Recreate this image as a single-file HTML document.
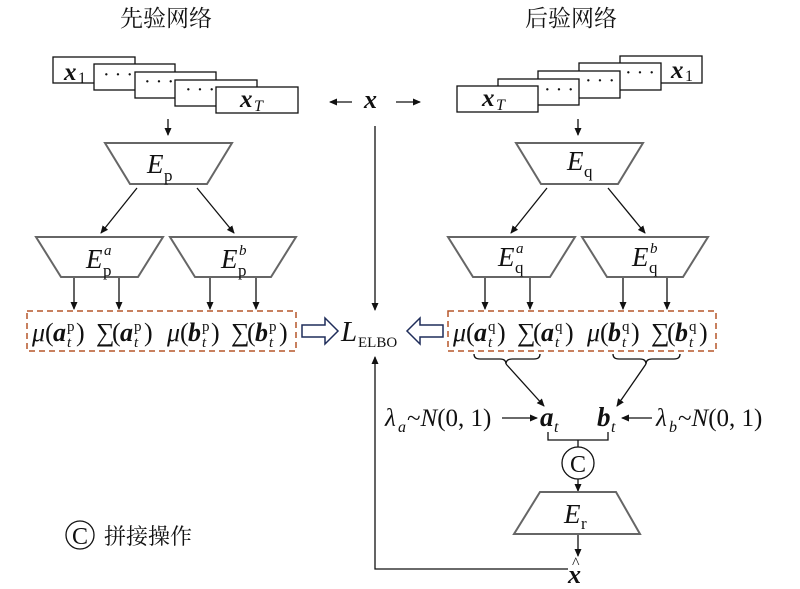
<!DOCTYPE html>
<html><head><meta charset="utf-8"><style>
body{margin:0;background:#fff;}
svg{display:block;}
text{font-family:"Liberation Serif","Noto Serif CJK SC",serif;fill:#111;}
.b{font-weight:bold;font-style:italic;}
.i{font-style:italic;}
</style></head><body>
<svg width="800" height="589" viewBox="0 0 800 589" xmlns="http://www.w3.org/2000/svg">
<defs>
<marker id="ah" markerWidth="8" markerHeight="8" refX="7" refY="4" orient="auto" markerUnits="userSpaceOnUse"><path d="M0,0.5 L8,4 L0,7.5 Z" fill="#111"/></marker>
<g id="mu"><text x="0" y="0" class="i" font-size="26">μ</text><text x="13" y="0" font-size="26">(</text><text x="44" y="0" font-size="26">)</text></g>
<g id="sg"><text x="0" y="0" font-size="26">∑</text><text x="16" y="0" font-size="26">(</text><text x="48" y="0" font-size="26">)</text></g>
</defs>
<text x="120" y="26" font-size="23" font-family="'Noto Sans CJK SC',sans-serif">先验网络</text>
<text x="525" y="26" font-size="23" font-family="'Noto Sans CJK SC',sans-serif">后验网络</text>

<g stroke="#111" stroke-width="1.3" fill="#fff">
<rect x="53" y="57" width="82" height="26"/>
<rect x="94" y="64" width="81" height="26"/>
<rect x="135" y="72" width="81" height="26"/>
<rect x="175" y="80" width="82" height="26"/>
<rect x="216" y="87" width="82" height="26"/>
<rect x="620" y="56" width="82" height="27"/>
<rect x="579" y="63" width="82" height="27"/>
<rect x="538" y="71" width="82" height="27"/>
<rect x="498" y="79" width="81" height="26"/>
<rect x="457" y="86" width="81" height="26"/>
</g>
<g font-size="20" text-anchor="middle">
<text x="118" y="81">· · ·</text><text x="159" y="88">· · ·</text><text x="200" y="96">· · ·</text>
<text x="640" y="79">· · ·</text><text x="600" y="87">· · ·</text><text x="559" y="96">· · ·</text>
</g>
<g font-size="25">
<text x="64" y="80" class="b">x</text><text x="78" y="83" font-size="16">1</text>
<text x="240" y="107" class="b">x</text><text x="254" y="111" font-size="16" class="i">T</text>
<text x="671" y="78" class="b">x</text><text x="685" y="81" font-size="16">1</text>
<text x="482" y="106" class="b">x</text><text x="496" y="110" font-size="16" class="i">T</text>
<text x="364" y="108" class="b" font-size="26">x</text>
</g>

<g stroke="#111" stroke-width="1.3" fill="none">
<line x1="352" y1="102" x2="330" y2="102" marker-end="url(#ah)"/>
<line x1="396" y1="102" x2="420" y2="102" marker-end="url(#ah)"/>
<line x1="168" y1="119" x2="168" y2="135" marker-end="url(#ah)"/>
<line x1="578" y1="119" x2="578" y2="135" marker-end="url(#ah)"/>
<line x1="375" y1="126" x2="375" y2="310" marker-end="url(#ah)"/>
<line x1="137" y1="188" x2="101" y2="233" marker-end="url(#ah)"/>
<line x1="197" y1="188" x2="234" y2="233" marker-end="url(#ah)"/>
<line x1="547" y1="188" x2="511" y2="233" marker-end="url(#ah)"/>
<line x1="608" y1="188" x2="645" y2="233" marker-end="url(#ah)"/>
<line x1="74" y1="278" x2="74" y2="309" marker-end="url(#ah)"/>
<line x1="119" y1="278" x2="119" y2="309" marker-end="url(#ah)"/>
<line x1="210" y1="278" x2="210" y2="309" marker-end="url(#ah)"/>
<line x1="256" y1="278" x2="256" y2="309" marker-end="url(#ah)"/>
<line x1="485" y1="278" x2="485" y2="309" marker-end="url(#ah)"/>
<line x1="530" y1="278" x2="530" y2="309" marker-end="url(#ah)"/>
<line x1="623" y1="278" x2="623" y2="309" marker-end="url(#ah)"/>
<line x1="667" y1="278" x2="667" y2="309" marker-end="url(#ah)"/>
<path d="M474,354 Q474,359 480,359 L500,359 Q506,359 506,364 Q506,359 512,359 L534,359 Q540,359 540,354"/>
<path d="M613,354 Q613,359 619,359 L640,359 Q646,359 646,364 Q646,359 652,359 L674,359 Q680,359 680,354"/>
<line x1="506" y1="364" x2="544" y2="406" marker-end="url(#ah)"/>
<line x1="646" y1="364" x2="617" y2="406" marker-end="url(#ah)"/>
<line x1="502" y1="418" x2="537" y2="418" marker-end="url(#ah)"/>
<line x1="652" y1="418" x2="622" y2="418" marker-end="url(#ah)"/>
<path d="M548,432 L548,440 L608,440 L608,432 M578,440 L578,447"/>
<circle cx="578" cy="463" r="16"/>
<line x1="578" y1="479" x2="578" y2="491" marker-end="url(#ah)"/>
<line x1="578" y1="535" x2="578" y2="556" marker-end="url(#ah)"/>
<path d="M568,569 L375,569 L375,357" marker-end="url(#ah)"/>
<circle cx="80" cy="535" r="14"/>
</g>
<g stroke="#666" stroke-width="2" fill="#fff">
<polygon points="105,143 232,143 207,184 130,184"/>
<polygon points="36,237 163,237 138,277 61,277"/>
<polygon points="170,237 296,237 271,277 195,277"/>
<polygon points="516,143 643,143 618,184 541,184"/>
<polygon points="448,237 575,237 550,277 473,277"/>
<polygon points="582,237 708,237 683,277 607,277"/>
<polygon points="540,492 616,492 640,534 514,534"/>
</g>
<g stroke="#b5562a" stroke-width="1.5" fill="none" stroke-dasharray="6,4">
<rect x="27" y="311" width="269" height="40"/>
<rect x="448" y="311" width="268" height="40"/>
</g>
<g stroke="#1f2d5a" stroke-width="1.5" fill="#fff">
<polygon points="302,325 325,325 325,318 338,331 325,344 325,337 302,337"/>
<polygon points="443,325 420,325 420,318 407,331 420,344 420,337 443,337"/>
</g>
<g font-size="27">
<text x="147" y="173" class="i">E</text><text x="164" y="181" font-size="17">p</text>
<text x="86" y="268" class="i">E</text><text x="103" y="276" font-size="17">p</text><text x="104" y="255" font-size="15" class="i">a</text>
<text x="221" y="268" class="i">E</text><text x="238" y="276" font-size="17">p</text><text x="239" y="255" font-size="15" class="i">b</text>
<text x="567" y="170" class="i">E</text><text x="584" y="177" font-size="17">q</text>
<text x="498" y="266" class="i">E</text><text x="515" y="273" font-size="17">q</text><text x="516" y="253" font-size="15" class="i">a</text>
<text x="632" y="266" class="i">E</text><text x="649" y="273" font-size="17">q</text><text x="650" y="253" font-size="15" class="i">b</text>
<text x="564" y="523" class="i">E</text><text x="581" y="529" font-size="17">r</text>
<text x="578" y="472" font-size="24" text-anchor="middle">C</text>
<text x="80" y="544" font-size="24" text-anchor="middle">C</text>
<text x="104" y="544" font-family="'Noto Sans CJK SC',sans-serif" font-size="22">拼接操作</text>
<text x="341" y="341" class="i" font-size="29">L</text><text x="358" y="347" font-size="15">ELBO</text>
</g>
<g font-size="26">
<g transform="translate(32,341)"><use href="#mu"/><text x="21" y="0" class="b">a</text><text x="35" y="-10" font-size="15">p</text><text x="35" y="6" font-size="15" class="i">t</text></g>
<g transform="translate(96,341)"><use href="#sg"/><text x="24" y="0" class="b">a</text><text x="38" y="-10" font-size="15">p</text><text x="38" y="6" font-size="15" class="i">t</text></g>
<g transform="translate(167,341)"><use href="#mu"/><text x="21" y="0" class="b">b</text><text x="35" y="-10" font-size="15">p</text><text x="35" y="6" font-size="15" class="i">t</text></g>
<g transform="translate(231,341)"><use href="#sg"/><text x="24" y="0" class="b">b</text><text x="38" y="-10" font-size="15">p</text><text x="38" y="6" font-size="15" class="i">t</text></g>
<g transform="translate(453,341)"><use href="#mu"/><text x="21" y="0" class="b">a</text><text x="35" y="-10" font-size="15">q</text><text x="35" y="6" font-size="15" class="i">t</text></g>
<g transform="translate(517,341)"><use href="#sg"/><text x="24" y="0" class="b">a</text><text x="38" y="-10" font-size="15">q</text><text x="38" y="6" font-size="15" class="i">t</text></g>
<g transform="translate(587,341)"><use href="#mu"/><text x="21" y="0" class="b">b</text><text x="35" y="-10" font-size="15">q</text><text x="35" y="6" font-size="15" class="i">t</text></g>
<g transform="translate(651,341)"><use href="#sg"/><text x="24" y="0" class="b">b</text><text x="38" y="-10" font-size="15">q</text><text x="38" y="6" font-size="15" class="i">t</text></g>
</g>
<g font-size="25">
<text x="385" y="426" class="i">λ</text><text x="398" y="432" class="i" font-size="16">a</text><text x="407" y="426">~<tspan class="i">N</tspan>(0, 1)</text>
<text x="540" y="426" class="b" font-size="27">a</text><text x="554" y="432" font-size="16" class="i">t</text>
<text x="597" y="426" class="b" font-size="27">b</text><text x="611" y="432" font-size="16" class="i">t</text>
<text x="656" y="426" class="i">λ</text><text x="669" y="432" class="i" font-size="16">b</text><text x="678" y="426">~<tspan class="i">N</tspan>(0, 1)</text>
<text x="568" y="583" class="b" font-size="26">x</text>
<text x="572" y="568" font-size="16">^</text>
</g>
</svg>
</body></html>
